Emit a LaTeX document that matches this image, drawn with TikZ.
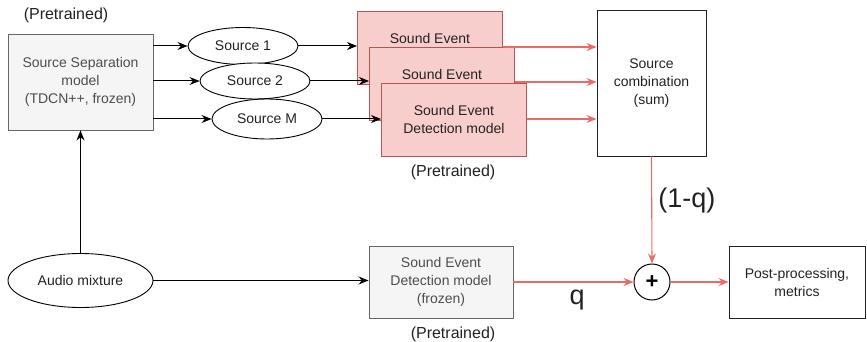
\documentclass[tikz,border=0pt]{standalone}
\usepackage{fontspec}
\setmainfont{Liberation Sans}
\usetikzlibrary{shapes.geometric,arrows.meta}
\definecolor{edgegray}{HTML}{666666}
\definecolor{boxgray}{HTML}{F5F5F5}
\definecolor{txtgray}{HTML}{4D4D4D}
\definecolor{pinkfill}{HTML}{F8CECC}
\definecolor{pinkline}{HTML}{B85450}
\definecolor{redline}{HTML}{EA6B66}
\definecolor{txt}{HTML}{222222}
\tikzset{
  base/.style={font=\fontsize{14}{18}\selectfont, align=center, inner sep=0pt, text=txt},
  graybox/.style={base, draw=edgegray, fill=boxgray, text=txtgray, line width=0.9pt},
  sedbox/.style={base, draw=pinkline, fill=pinkfill, line width=0.9pt,
    minimum width=145pt, minimum height=73pt},
  whitebox/.style={base, draw=txt, fill=white, line width=0.9pt},
  src/.style={base, ellipse, draw=black, fill=white, line width=0.9pt},
  note/.style={base, font=\fontsize{16}{19}\selectfont},
  bigtxt/.style={base, font=\fontsize{27}{30}\selectfont},
  arr/.style={-{Stealth[length=10pt,width=8pt]}, line width=1pt, black},
  redarr/.style={-{Stealth[length=10pt,width=8pt]}, line width=1.1pt, redline},
}
\begin{document}
\begin{tikzpicture}[x=1pt,y=-1pt]
\useasboundingbox (0,0) rectangle (867,342);

% separation stage
\node[note] (pre1) at (66,15) {(Pretrained)};
\node[graybox, minimum width=145pt, minimum height=96pt] (sep) at (80.5,82)
  {Source Separation\\model\\(TDCN++, frozen)};

% separated sources
\node[src, minimum width=110pt, minimum height=37pt] (s1) at (243,46) {Source 1};
\node[src, minimum width=110pt, minimum height=36pt] (s2) at (255,81) {Source 2};
\node[src, minimum width=110pt, minimum height=40pt] (sm) at (267,119) {Source M};

% stacked sound event detectors
\node[sedbox, anchor=north west] (d1) at (357,11) {Sound Event\\\phantom{Detection model}};
\node[sedbox, anchor=north west] (d2) at (369,47) {Sound Event\\\phantom{Detection model}};
\node[sedbox, anchor=north west] (d3) at (381,83) {Sound Event\\Detection model};
\node[note] (pre2) at (453,172) {(Pretrained)};

% combination of the per-source outputs
\node[whitebox, minimum width=109pt, minimum height=146pt] (comb) at (651.5,83)
  {Source\\combination\\(sum)};

% lower branch
\node[src, minimum width=145pt, minimum height=54pt] (mix) at (80.5,280.5) {Audio mixture};
\node[graybox, minimum width=144pt, minimum height=72pt] (sed) at (441,282)
  {Sound Event\\Detection model\\(frozen)};
\node[note] (pre3) at (453,334) {(Pretrained)};

\node[circle, draw=black, fill=white, line width=1pt, minimum size=36pt, inner sep=0pt,
  font=\fontsize{22}{22}\selectfont\bfseries] (plus) at (652,282) {+};
\node[whitebox, minimum width=136pt, minimum height=72pt] (post) at (797,282)
  {Post-processing,\\metrics};

% connectors
\draw[arr] (sep.east |- s1) -- (s1.west);
\draw[arr] (sep.east |- s2) -- (s2.west);
\draw[arr] (sep.east |- sm) -- (sm.west);
\draw[arr] (s1.east) -- (s1.east -| d1.west);
\draw[arr] (s2.east) -- (s2.east -| d2.west);
\draw[arr] (sm.east) -- (sm.east -| d3.west);
\draw[redarr] (d1.east |- 0,47) -- (comb.west |- 0,47);
\draw[redarr] (d2.east |- 0,82) -- (comb.west |- 0,82);
\draw[redarr] (d3.east |- 0,119) -- (comb.west |- 0,119);
\draw[arr] (mix.north) -- (sep.south);
\draw[arr] (mix.east) -- (sed.west |- mix.east);
\draw[redarr] (sed.east) -- (plus.west) node[bigtxt, pos=0.53, below=7pt] (qlab) {q};
\draw[redarr] (comb.south) -- (plus.north) node[bigtxt, pos=0.41, right=6pt] (oneq) {(1-q)};
\draw[redarr] (plus.east) -- (post.west);
\end{tikzpicture}
\end{document}
